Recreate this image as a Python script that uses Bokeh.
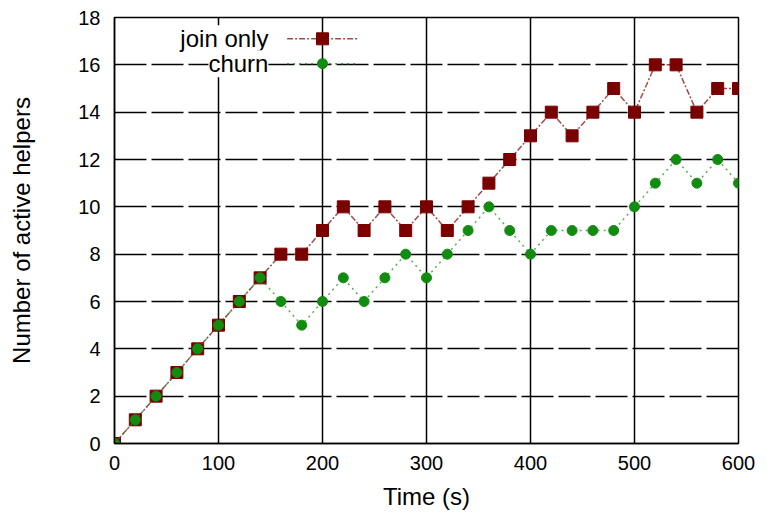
from bokeh.plotting import figure
from bokeh.models import Range1d, FixedTicker, Label
from bokeh.embed import file_html
from bokeh.resources import INLINE

time_s = [0, 20, 40, 60, 80, 100, 120, 140, 160, 180, 200, 220, 240, 260, 280, 300,
          320, 340, 360, 380, 400, 420, 440, 460, 480, 500, 520, 540, 560, 580, 600]
join_only = [0, 1, 2, 3, 4, 5, 6, 7, 8, 8, 9, 10, 9, 10, 9, 10,
             9, 10, 11, 12, 13, 14, 13, 14, 15, 14, 16, 16, 14, 15, 15]
churn = [0, 1, 2, 3, 4, 5, 6, 7, 6, 5, 6, 7, 6, 7, 8, 7,
         8, 9, 10, 9, 8, 9, 9, 9, 9, 10, 11, 12, 11, 12, 11]
x_ticks = [0, 100, 200, 300, 400, 500, 600]
y_ticks = [0, 2, 4, 6, 8, 10, 12, 14, 16, 18]
series_names = ["join only", "churn"]
x_title = "Time (s)"
y_title = "Number of active helpers"

RED = "#7a0000"
GREEN = "#118c11"
FONT = "Liberation Sans"

p = figure(width=758, height=513, output_backend="svg", toolbar_location=None,
           x_range=Range1d(0, 600), y_range=Range1d(0, 18),
           min_border_left=114, min_border_right=20, min_border_top=17, min_border_bottom=70)

p.outline_line_color = "black"
p.outline_line_width = 1.5
p.background_fill_color = "white"
p.border_fill_color = "white"

p.xaxis.ticker = FixedTicker(ticks=x_ticks)
p.yaxis.ticker = FixedTicker(ticks=y_ticks)
for ax in (p.xaxis[0], p.yaxis[0]):
    ax.axis_line_color = "black"
    ax.axis_line_width = 1.5
    ax.major_tick_in = 8
    ax.major_tick_out = 0
    ax.major_tick_line_color = "black"
    ax.minor_tick_line_color = None
    ax.major_label_text_font = FONT
    ax.major_label_text_font_size = "20px"
    ax.major_label_text_color = "black"
    ax.axis_label_text_font = FONT
    ax.axis_label_text_font_size = "24px"
    ax.axis_label_text_font_style = "normal"
    ax.axis_label_text_color = "black"
p.xaxis.axis_label = x_title
p.yaxis.axis_label = y_title
p.xaxis.major_label_standoff = 12
p.xaxis.axis_label_standoff = 10
p.yaxis.major_label_standoff = 14
p.yaxis.axis_label_standoff = 40

p.xgrid.grid_line_color = "black"
p.xgrid.grid_line_width = 1.5
p.ygrid.grid_line_color = "black"
p.ygrid.grid_line_width = 1.5
p.ygrid.grid_line_dash = "32 5"

# data series
p.line(time_s, join_only, line_color=RED, line_width=1.5, line_alpha=0.7, line_dash="6 2 2 2")
p.scatter(time_s, join_only, marker="square", size=12, fill_color=RED, line_color=RED)
p.line(time_s, churn, line_color=GREEN, line_width=1.5, line_alpha=0.7, line_dash="2 4")
p.scatter(time_s, churn, marker="circle", size=10, fill_color=GREEN, line_color=GREEN)

# key (text on the left, sample on the right, gnuplot style)
key_y = [17.1, 16.05]
key_x0, key_x1, key_xm = 166, 234, 200
p.line([key_x0, key_x1], [key_y[0], key_y[0]], line_color=RED, line_width=1.5, line_alpha=0.7, line_dash="6 2 2 2")
p.scatter([key_xm], [key_y[0]], marker="square", size=12, fill_color=RED, line_color=RED)
p.line([key_x0, key_x1], [key_y[1], key_y[1]], line_color=GREEN, line_width=1.5, line_alpha=0.7, line_dash="2 4")
p.scatter([key_xm], [key_y[1]], marker="circle", size=10, fill_color=GREEN, line_color=GREEN)
for name, ky in zip(series_names, key_y):
    p.add_layout(Label(x=key_x0 - 18, y=ky, text=name, text_align="right", text_baseline="middle",
                       text_font=FONT, text_font_size="24px", text_color="black",
                       background_fill_color="white"))

open("out.html", "w").write(file_html(p, INLINE))
